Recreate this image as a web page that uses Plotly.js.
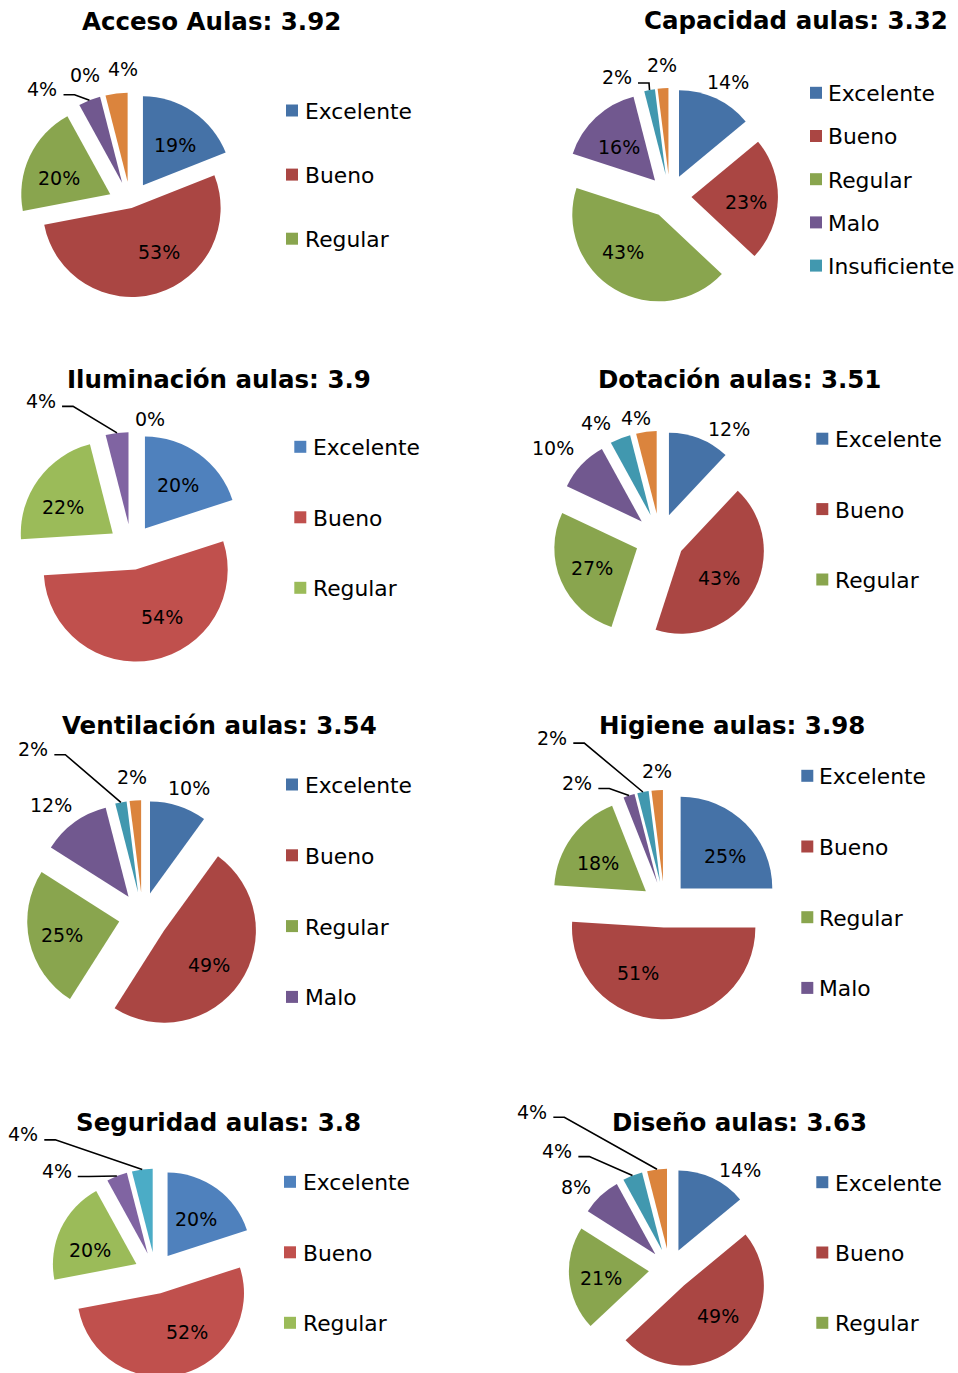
<!DOCTYPE html>
<html><head><meta charset="utf-8">
<script src="https://cdn.plot.ly/plotly-3.0.1.min.js"></script>
<style>
html,body{margin:0;padding:0;background:#fff;overflow:hidden}
#wrap{width:958px;height:1373px;overflow:hidden;position:relative}
#chart{width:958px;height:1390px}
</style>
</head><body><div id="wrap"><div id="chart"></div></div>
<script>
// ---------------- DATA ----------------
const categories = ['Excelente', 'Bueno', 'Regular', 'Malo', 'Insuficiente', 'No responde'];
const chartNames = ['Acceso Aulas', 'Capacidad aulas', 'Iluminación aulas', 'Dotación aulas',
                    'Ventilación aulas', 'Higiene aulas', 'Seguridad aulas', 'Diseño aulas'];
const scores = [3.92, 3.32, 3.9, 3.51, 3.54, 3.98, 3.8, 3.63];
const acceso      = [19, 53, 20, 4, 0, 4];
const capacidad   = [14, 23, 43, 16, 2, 2];
const iluminacion = [20, 54, 22, 4, 0];
const dotacion    = [12, 43, 27, 10, 4, 4];
const ventilacion = [10, 49, 25, 12, 2, 2];
const higiene     = [25, 51, 18, 2, 2, 2];
const seguridad   = [20, 52, 20, 4, 4];
const diseno      = [14, 49, 21, 8, 4, 4];
const legendCounts = [3, 5, 3, 3, 4, 4, 3, 3];
const seriesValues = [acceso, capacidad, iluminacion, dotacion, ventilacion, higiene, seguridad, diseno];

// ---------------- STYLE ----------------
const W = 958, H = 1390;
const FONT = 'DejaVu Sans, Verdana, sans-serif';
const DARK = ['#4572A7', '#AA4643', '#89A54E', '#71588F', '#4198AF', '#DB843D'];
const LIGHT = ['#4F81BD', '#C0504D', '#9BBB59', '#8064A2', '#4BACC6', '#F79646'];

// out: labels placed outside (offset from slice outer edge); adj: nudges of inside labels
const styles = [
  {cx:130.4, cy:203.7, r:89, pull:[0.25,0.05,0.25,0.25,0.25,0.25], pal:DARK,
   out:[{i:3,dx:-47,dy:-12,lead:true},{i:4,dx:-18,dy:-22},{i:5,dx:7,dy:-25}],
   adj:{0:[0,7],1:[15,1],2:[-1,8]},
   leg:{sx:286, tx:305, y0:110.5, dy:64.1}, title:{x:211.5, y:20.5}},
  {cx:669.8, cy:196.2, r:86.5, pull:[0.25,0.25,0.25,0.25,0.25,0.25], pal:DARK,
   out:[{i:0,dx:12,dy:-17},{i:4,dx:-32.6,dy:-13.5,lead:true},{i:5,dx:-1,dy:-24}],
   adj:{1:[3,3],2:[-14,0],3:[4,9]},
   leg:{sx:810, tx:828, y0:92.8, dy:43.2}, title:{x:795.7, y:19.7}},
  {cx:131.4, cy:547, r:92, pull:[0.25,0.25,0.25,0.25,0.25], pal:LIGHT,
   out:[{i:3,dx:-76,dy:-33,lead:true},{i:4,dx:18.6,dy:-13.7}],
   adj:{0:[-1,3],1:[18,2],2:[-4,7]},
   leg:{sx:294.3, tx:312.5, y0:446.8, dy:70.5}, title:{x:219.2, y:378.3}},
  {cx:659.8, cy:538.4, r:82.7, pull:[0.3,0.3,0.3,0.3,0.3,0.3], pal:DARK,
   out:[{i:0,dx:29.3,dy:-10.9},{i:3,dx:-28.2,dy:-18.2},{i:4,dx:-24.5,dy:-16.7},{i:5,dx:-10.7,dy:-14.3}],
   adj:{1:[2,6],2:[-2,1]},
   leg:{sx:816.3, tx:835, y0:438.7, dy:70.4}, title:{x:739, y:378}},
  {cx:142.6, cy:916.2, r:92, pull:[0.26,0.28,0.26,0.26,0.26,0.26], pal:DARK,
   out:[{i:0,dx:10.8,dy:-18.5},{i:3,dx:-23.7,dy:-18.2},{i:4,dx:-87.6,dy:-54.1,lead:true},{i:5,dx:-3.6,dy:-24.7}],
   adj:{1:[7,8],2:[-5,2]},
   leg:{sx:286, tx:305, y0:784.5, dy:70.8}, title:{x:219.5, y:724.5}},
  {cx:664.4, cy:904.6, r:91.7, pull:[0.25,0.25,0.25,0.25,0.25,0.25], pal:DARK,
   out:[{i:3,dx:-51.7,dy:-13.6,lead:true},{i:4,dx:-90.7,dy:-55.4,lead:true},{i:5,dx:-0.5,dy:-20.2}],
   adj:{0:[6,6],1:[-24,0],2:[0,7]},
   leg:{sx:801.3, tx:819, y0:775.8, dy:70.7}, title:{x:732, y:724.5}},
  {cx:155.3, cy:1273, r:83.5, pull:[0.25,0.25,0.25,0.25,0.25], pal:LIGHT,
   out:[{i:3,dx:-60.2,dy:-5.9,lead:true},{i:4,dx:-119,dy:-36.1,lead:true}],
   adj:{0:[-2,5],1:[16,-2],2:[1,8]},
   leg:{sx:284, tx:302.5, y0:1181.8, dy:70.5}, title:{x:218.8, y:1121}},
  {cx:669.6, cy:1269.3, r:80, pull:[0.26,0.27,0.26,0.26,0.26,0.26], pal:DARK,
   out:[{i:0,dx:27,dy:-9.4},{i:3,dx:-24.9,dy:-10.1},{i:4,dx:-75.2,dy:-25.5,lead:true},{i:5,dx:-124.7,dy:-58.5,lead:true}],
   adj:{1:[8,0],2:[1,2]},
   leg:{sx:816.3, tx:835, y0:1182.2, dy:70.3}, title:{x:739.8, y:1121}}
];

const LABEL_SIZE = 19, LEGEND_SIZE = 21.8, TITLE_SIZE = 24.5;
const px = x => x / W;
const py = y => 1 - y / H;

const traces = [], annotations = [], shapes = [];
const labelFont = {family: FONT, size: LABEL_SIZE, color: '#000'};

seriesValues.forEach((vals, k) => {
  const st = styles[k];
  const n = vals.length;
  const total = vals.reduce((a, b) => a + b, 0);
  const maxPull = Math.max(...st.pull);
  const side = st.r * (2 + 2 * maxPull);
  const outIdx = st.out.map(o => o.i);
  traces.push({
    type: 'pie',
    labels: categories.slice(0, n),
    values: vals,
    sort: false,
    direction: 'clockwise',
    rotation: 0,
    pull: st.pull.slice(0, n),
    marker: {colors: st.pal.slice(0, n), line: {width: 0}},
    textinfo: 'none',
    hoverinfo: 'skip',
    showlegend: false,
    domain: {x: [px(st.cx - side / 2), px(st.cx + side / 2)],
             y: [py(st.cy + side / 2), py(st.cy - side / 2)]}
  });

  // slice geometry derived from the values
  let cum = 0;
  const mids = [], halves = [];
  vals.forEach(v => {
    halves.push(v / total * Math.PI);
    mids.push((cum + v / 2) / total * 2 * Math.PI);
    cum += v;
  });

  // inside labels
  vals.forEach((v, i) => {
    if (outIdx.includes(i) || v <= 0) return;
    const a = mids[i];
    const rIns = Math.min(1 / (1 + 1 / Math.sin(Math.min(halves[i], Math.PI / 2))), 0.5);
    const rc = st.pull[i] + (1 - rIns);
    const d = st.adj[i] || [0, 0];
    const lx = st.cx + rc * st.r * Math.sin(a) + d[0];
    const ly = st.cy - rc * st.r * Math.cos(a) + d[1];
    annotations.push({xref: 'paper', yref: 'paper', x: px(lx), y: py(ly),
      xanchor: 'center', yanchor: 'middle', showarrow: false, text: v + '%', font: labelFont});
  });

  // outside labels (small slices), anchored at slice outer edge on its bisector
  st.out.forEach(o => {
    const a = mids[o.i];
    const rr = st.r * (1 + st.pull[o.i]);
    const ax = st.cx + rr * Math.sin(a), ay = st.cy - rr * Math.cos(a);
    const lx = ax + o.dx, ly = ay + o.dy;
    annotations.push({xref: 'paper', yref: 'paper', x: px(lx), y: py(ly + 1),
      xanchor: 'center', yanchor: 'middle', showarrow: false, text: vals[o.i] + '%', font: labelFont});
    if (o.lead) {
      const digits = String(vals[o.i]).length;
      const hw = (digits * 0.636 + 0.95) * LABEL_SIZE / 2;
      const sx0 = lx + hw + 6, sy0 = ly + 6.5, sx1 = sx0 + 11;
      shapes.push({type: 'path', xref: 'paper', yref: 'paper',
        path: `M ${px(sx0)},${py(sy0)} L ${px(sx1)},${py(sy0)} L ${px(ax)},${py(ay)}`,
        line: {color: '#000', width: 1.6}});
    }
  });

  // legend
  for (let j = 0; j < legendCounts[k]; j++) {
    const yc = st.leg.y0 + j * st.leg.dy;
    shapes.push({type: 'rect', xref: 'paper', yref: 'paper',
      x0: px(st.leg.sx), x1: px(st.leg.sx + 12), y0: py(yc + 6), y1: py(yc - 6),
      fillcolor: st.pal[j], line: {width: 0}});
    annotations.push({xref: 'paper', yref: 'paper', x: px(st.leg.tx - 2), y: py(yc + 1),
      xanchor: 'left', yanchor: 'middle', showarrow: false, text: categories[j],
      font: {family: FONT, size: LEGEND_SIZE, color: '#000'}});
  }

  // title
  annotations.push({xref: 'paper', yref: 'paper', x: px(st.title.x), y: py(st.title.y + 1),
    xanchor: 'center', yanchor: 'middle', showarrow: false,
    text: '<b>' + chartNames[k] + ': ' + scores[k] + '</b>',
    font: {family: FONT, size: TITLE_SIZE, color: '#000'}});
});

const layout = {
  width: W, height: H,
  margin: {l: 0, r: 0, t: 0, b: 0},
  paper_bgcolor: '#fff', plot_bgcolor: '#fff',
  showlegend: false,
  annotations: annotations,
  shapes: shapes,
  font: {family: FONT}
};
Plotly.newPlot('chart', traces, layout, {staticPlot: true, displayModeBar: false});
</script>
</body></html>
